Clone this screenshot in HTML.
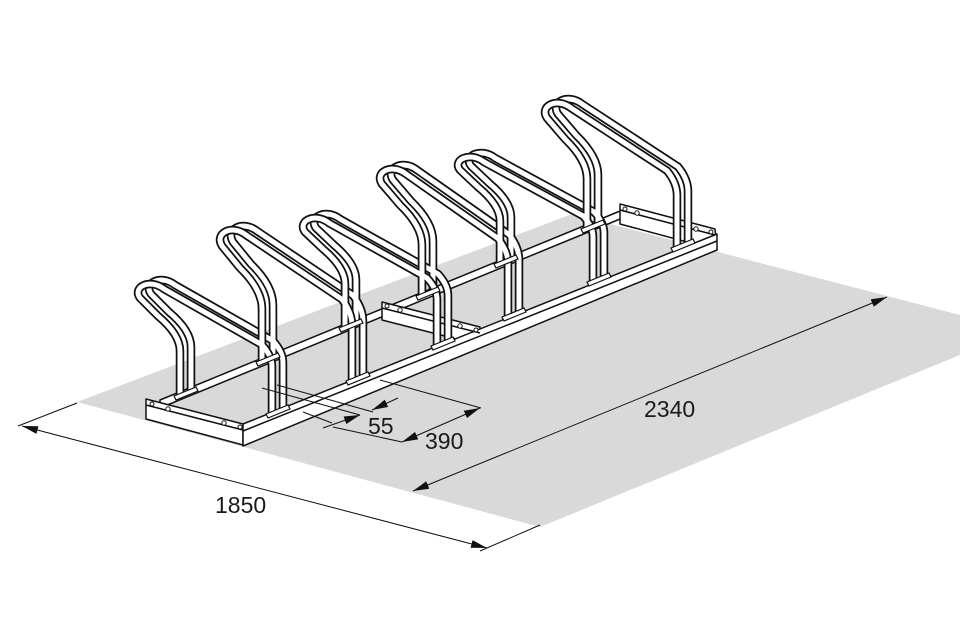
<!DOCTYPE html>
<html><head><meta charset="utf-8"><style>
html,body{margin:0;padding:0;background:#fff;}
svg{display:block;}
text{font-family:"Liberation Sans Narrow","Liberation Sans",sans-serif;font-size:23px;fill:#1a1a1a;}
</style></head><body>
<svg width="960" height="640" viewBox="0 0 960 640" xmlns="http://www.w3.org/2000/svg">
<defs>
<marker id="ar" viewBox="0 0 16 8" refX="16" refY="4" markerWidth="16" markerHeight="8" markerUnits="userSpaceOnUse" orient="auto-start-reverse">
<path d="M0,0 L16,4 L0,8 z" fill="#111"/>
</marker>
<path id="h1" d="M180,395 V351 Q180,334.5 158,316 L140,298 C132,287 150,278 164,289 L262,344.8 Q272,355.8 272,366.8 V413"/>
<path id="h2" d="M262,361 V309 Q262,289.5 240,268 L222,246 C214,233 232,224 246,235 L342,299.4 Q352,312.4 352,325.4 V380"/>
<path id="h3" d="M345,327 V283.8 Q345,267.6 323,249 L305,232 C297,221 315,212 329,223 L427,278 Q437,288.8 437,299.6 V345"/>
<path id="h4" d="M422,295 V245 Q422,226.25 400,205 L382,184 C374,172 392,163 406,174 L498,238.5 Q508,251 508,263.5 V316"/>
<path id="h5" d="M500,263 V221 Q500,205.25 478,187 L460,170 C452,160 470,151 484,162 L583,215.9 Q593,226.4 593,236.9 V281"/>
<path id="h6" d="M587,228 V178.8 Q587,160.35 565,139 L547,118 C539,106 557,97 571,108 L667,170.7 Q677,183 677,195.3 V247"/>
</defs>

<polygon points="77,402 572,214 960,315 960,355 540,527" fill="#d9d9d9"/>

<g stroke="#111" stroke-width="1" fill="none">
<line x1="18" y1="426" x2="77" y2="403"/>
<line x1="480" y1="551" x2="540" y2="525"/>
<line x1="22" y1="426" x2="487" y2="548" marker-start="url(#ar)" marker-end="url(#ar)"/>
<line x1="413" y1="491" x2="887" y2="297" marker-start="url(#ar)" marker-end="url(#ar)"/>
</g>
<text x="215" y="513">1850</text>
<text x="644" y="417">2340</text>

<g stroke="#111" stroke-width="1.5" fill="#fff" stroke-linejoin="round">
<polygon points="160,400 625,209 625,217 160,408"/>
<polygon points="146,399 243,424 243,445 146,419"/>
<polygon points="620,204 715,229 717,250 620,224"/>
<polygon points="382,302 480,327 480,345 382,320"/>
<polygon points="243,424 717,234 717,250 243,446"/>
<line x1="243" y1="431" x2="717" y2="241"/>
<line x1="146" y1="405" x2="243" y2="430"/>
<line x1="620" y1="210" x2="715" y2="235"/>
<line x1="382" y1="308" x2="480" y2="333"/>
</g>
<g fill="#fff" stroke="#111" stroke-width="1">
<circle cx="152" cy="404" r="2"/><circle cx="168" cy="409" r="2.2"/><circle cx="224" cy="423" r="2.2"/><circle cx="240" cy="427" r="2"/>
<circle cx="625" cy="209" r="2"/><circle cx="637" cy="213" r="2.2"/><circle cx="696" cy="229" r="2.2"/><circle cx="711" cy="232" r="2"/>
<circle cx="387" cy="306" r="2"/><circle cx="400" cy="310" r="2.2"/><circle cx="460" cy="326" r="2.2"/><circle cx="476" cy="330" r="2"/>
</g>

<g transform="translate(11,-4)" fill="none">
<g stroke="#111" stroke-width="8.5"><use href="#h1"/><use href="#h2"/><use href="#h3"/><use href="#h4"/><use href="#h5"/><use href="#h6"/></g>
<g stroke="#fff" stroke-width="5"><use href="#h1"/><use href="#h2"/><use href="#h3"/><use href="#h4"/><use href="#h5"/><use href="#h6"/></g>
</g>
<g fill="none">
<g stroke="#111" stroke-width="8.5"><use href="#h1"/><use href="#h2"/><use href="#h3"/><use href="#h4"/><use href="#h5"/><use href="#h6"/></g>
<g stroke="#fff" stroke-width="5"><use href="#h1"/><use href="#h2"/><use href="#h3"/><use href="#h4"/><use href="#h5"/><use href="#h6"/></g>
</g>
<g fill="#fff" stroke="#111" stroke-width="1.2">
<polygon points="174,396 196,387 198,391 176,400"/>
<polygon points="266,414 288,405 290,409 268,418"/>
<polygon points="256,362 278,353 280,357 258,366"/>
<polygon points="346,381 368,372 370,376 348,385"/>
<polygon points="339,328 361,319 363,323 341,332"/>
<polygon points="431,346 453,337 455,341 433,350"/>
<polygon points="416,296 438,287 440,291 418,300"/>
<polygon points="502,317 524,308 526,312 504,321"/>
<polygon points="494,264 516,255 518,259 496,268"/>
<polygon points="587,282 609,273 611,277 589,286"/>
<polygon points="581,229 603,220 605,224 583,233"/>
<polygon points="671,248 693,239 695,243 673,252"/>
</g>

<g stroke="#111" stroke-width="1" fill="none">
<line x1="277" y1="385" x2="373" y2="412"/>
<line x1="262" y1="388" x2="360" y2="415"/>
<line x1="303" y1="412" x2="332" y2="423"/>
<line x1="398" y1="398" x2="372" y2="410" marker-end="url(#ar)"/>
<line x1="323" y1="428" x2="360" y2="415" marker-end="url(#ar)"/>
<line x1="380" y1="380" x2="481" y2="408"/>
<line x1="333" y1="427" x2="402" y2="442"/>
<line x1="402" y1="442" x2="480" y2="408" marker-start="url(#ar)" marker-end="url(#ar)"/>
</g>
<text x="368" y="434">55</text>
<text x="425" y="449">390</text>
</svg>
</body></html>
